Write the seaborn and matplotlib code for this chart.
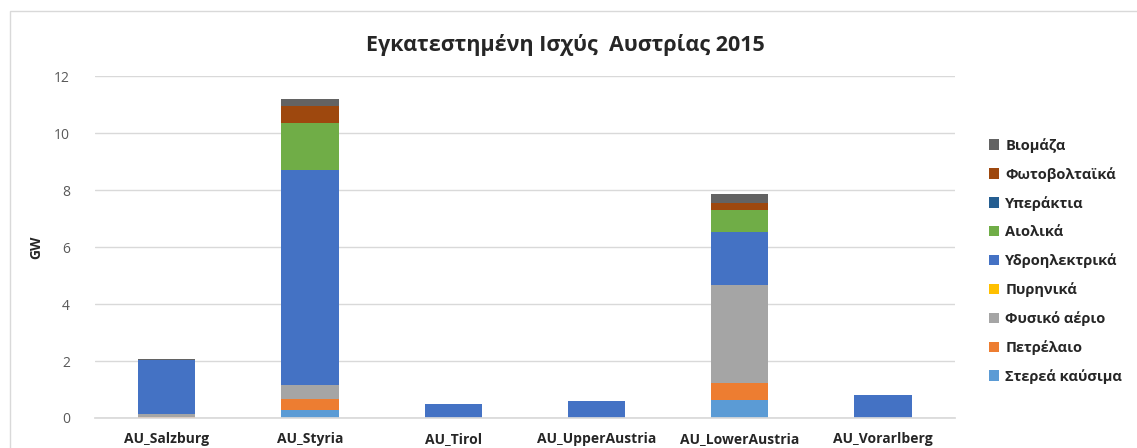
import matplotlib
matplotlib.use("Agg")
import matplotlib.pyplot as plt
import seaborn as sns
import pandas as pd
import numpy as np
from matplotlib.patches import Rectangle

regions = ["AU_Salzburg", "AU_Styria", "AU_Tirol", "AU_UpperAustria", "AU_LowerAustria", "AU_Vorarlberg"]

# stacking order: bottom -> top
sources = ["Στερεά καύσιμα", "Πετρέλαιο", "Φυσικό αέριο", "Πυρηνικά", "Υδροηλεκτρικά",
           "Αιολικά", "Υπεράκτια", "Φωτοβολταϊκά", "Βιομάζα"]
colors = ["#5B9BD5", "#ED7D31", "#A5A5A5", "#FFC000", "#4472C4",
          "#70AD47", "#255E91", "#9E480E", "#636363"]

solid = [0.0, 0.28, 0.0, 0.0, 0.64, 0.0]
oil = [0.03, 0.37, 0.0, 0.0, 0.60, 0.0]
gas = [0.10, 0.51, 0.0, 0.0, 3.43, 0.0]
nuclear = [0.0, 0.0, 0.0, 0.0, 0.0, 0.0]
hydro = [1.90, 7.54, 0.50, 0.60, 1.87, 0.80]
wind = [0.0, 1.65, 0.0, 0.0, 0.75, 0.0]
offshore = [0.0, 0.0, 0.0, 0.0, 0.0, 0.0]
pv = [0.0, 0.60, 0.0, 0.0, 0.26, 0.0]
biomass = [0.05, 0.25, 0.0, 0.0, 0.30, 0.0]

values = [solid, oil, gas, nuclear, hydro, wind, offshore, pv, biomass]

sns.set_theme(style="white")
plt.rcParams["font.family"] = ["Open Sans", "DejaVu Sans"]

fig = plt.figure(figsize=(11.37, 4.48), dpi=100)
ax = fig.add_axes([0.0836, 0.067, 0.756, 0.763])

bottom = np.zeros(len(regions))
for name, vals, col in zip(sources, values, colors):
    df = pd.DataFrame({"region": regions, "value": vals})
    sns.barplot(data=df, x="region", y="value", color=col, width=0.4,
                bottom=bottom, ax=ax, saturation=1, edgecolor="none", label=name)
    bottom = bottom + np.array(vals)

ax.set_ylim(0, 12)
ax.set_yticks(range(0, 13, 2))
ax.set_xlim(-0.5, len(regions) - 0.5)
ax.yaxis.grid(True, color="#D9D9D9", linewidth=1)
ax.set_axisbelow(True)
for s in ["top", "right", "left"]:
    ax.spines[s].set_visible(False)
ax.spines["bottom"].set_color("#D9D9D9")
ax.tick_params(axis="y", labelsize=10, colors="#595959", length=0, pad=18)
ax.tick_params(axis="x", length=0, pad=10)
for lab in ax.get_xticklabels():
    lab.set_fontweight("bold")
    lab.set_fontsize(10)
ax.set_xlabel("")
ax.set_ylabel("GW", fontsize=10, fontweight="bold", labelpad=8)

fig.suptitle("Εγκατεστημένη Ισχύς  Αυστρίας 2015", x=0.497, y=0.925,
             fontsize=15.5, fontweight="bold")

h, l = ax.get_legend_handles_labels()
leg = ax.legend(h[::-1], l[::-1], loc="center left", bbox_to_anchor=(1.025, 0.46),
                frameon=False, handlelength=0.7, handleheight=0.7,
                labelspacing=0.97, handletextpad=0.4,
                prop={"weight": "bold", "size": 10.5})

fig.patches.append(Rectangle((0.009, -0.01), 1.0, 0.985, transform=fig.transFigure,
                             fill=False, edgecolor="#D9D9D9", linewidth=1))

fig.savefig("out.png", dpi=100)
